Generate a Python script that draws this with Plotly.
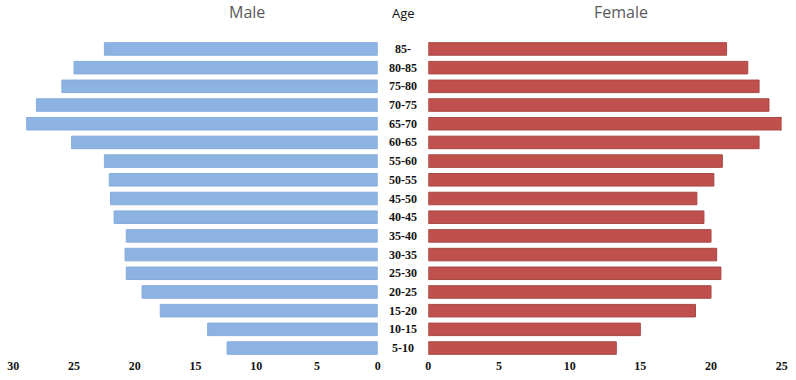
import plotly.graph_objects as go

age_groups = ["85-", "80-85", "75-80", "70-75", "65-70", "60-65", "55-60", "50-55",
              "45-50", "40-45", "35-40", "30-35", "25-30", "20-25", "15-20", "10-15", "5-10"]
male = [22.5, 25.0, 26.0, 28.1, 28.9, 25.2, 22.5, 22.1, 22.0, 21.7, 20.7, 20.8, 20.7,
        19.4, 17.9, 14.0, 12.4]
female = [21.1, 22.6, 23.4, 24.1, 25.3, 23.4, 20.8, 20.2, 19.0, 19.5, 20.0, 20.4, 20.7,
          20.0, 18.9, 15.0, 13.3]
male_ticks = [30, 25, 20, 15, 10, 5, 0]
female_ticks = [0, 5, 10, 15, 20, 25]

W, H = 796, 380
serif_bold = dict(family="Liberation Serif", size=12, color="#111111", weight="bold")

fig = go.Figure()
fig.add_trace(go.Bar(y=age_groups, x=male, orientation="h", xaxis="x", yaxis="y",
                     marker=dict(color="#8DB3E2", line=dict(color="#86ACDA", width=1)),
                     hoverinfo="skip", showlegend=False))
fig.add_trace(go.Bar(y=age_groups, x=female, orientation="h", xaxis="x2", yaxis="y2",
                     marker=dict(color="#C0504D", line=dict(color="#A84744", width=1)),
                     hoverinfo="skip", showlegend=False))

y_bottom = 357.4
y_top = 39.6
ydom = [(H - y_bottom) / H, (H - y_top) / H]
yax = dict(type="category", range=[len(age_groups) - 0.5, -0.5], showticklabels=False,
           showgrid=False, zeroline=False, showline=False, ticks="", domain=ydom,
           automargin=False)

for i, a in enumerate(age_groups):
    fig.add_annotation(x=403 / W, xref="paper", y=a, yref="y", text=a, showarrow=False,
                       font=serif_bold, xanchor="center", yanchor="middle")

fig.add_annotation(x=247 / W, y=(H - 12) / H, xref="paper", yref="paper", text="Male",
                   showarrow=False, xanchor="center", yanchor="middle",
                   font=dict(family="Open Sans", size=16, color="#595959"))
fig.add_annotation(x=621 / W, y=(H - 12) / H, xref="paper", yref="paper", text="Female",
                   showarrow=False, xanchor="center", yanchor="middle",
                   font=dict(family="Open Sans", size=16, color="#595959"))
fig.add_annotation(x=403 / W, y=(H - 13) / H, xref="paper", yref="paper", text="Age",
                   showarrow=False, xanchor="center", yanchor="middle",
                   font=dict(family="Open Sans", size=13, color="#111111"))

fig.update_layout(
    width=W, height=H, margin=dict(l=0, r=0, t=0, b=0, autoexpand=False),
    paper_bgcolor="white", plot_bgcolor="white", bargap=0.33,
    xaxis=dict(domain=[13.3 / W, 377.7 / W], range=[30, 0], tickvals=male_ticks,
               tickfont=serif_bold, showgrid=False, zeroline=False, showline=False,
               ticks="", anchor="y", automargin=False),
    xaxis2=dict(domain=[428.3 / W, 781.7 / W], range=[0, 25], tickvals=female_ticks,
                tickfont=serif_bold, showgrid=False, zeroline=False, showline=False,
                ticks="", anchor="y2", automargin=False),
    yaxis=dict(**yax, anchor="x"),
    yaxis2=dict(**yax, anchor="x2"),
)

fig.write_html("out.html", config={"displayModeBar": False},
               post_script="document.body.style.margin='0';")
